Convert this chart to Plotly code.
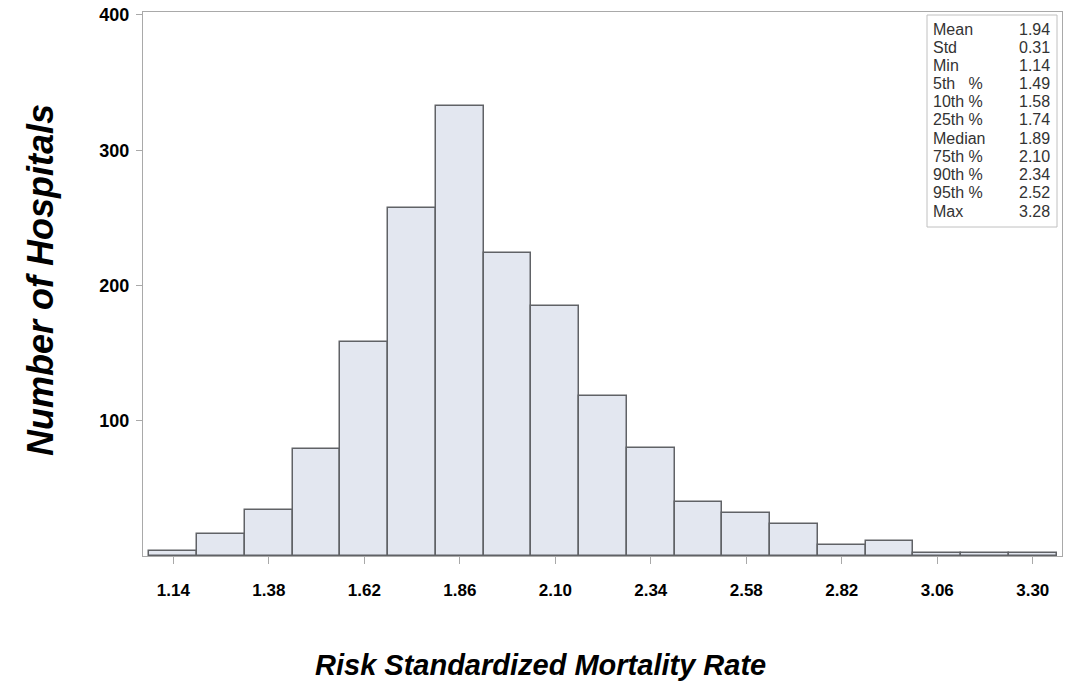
import plotly.graph_objects as go

# ---- data ----
bin_centers = [1.14, 1.26, 1.38, 1.50, 1.62, 1.74, 1.86, 1.98, 2.10, 2.22,
               2.34, 2.46, 2.58, 2.70, 2.82, 2.94, 3.06, 3.18, 3.30]
counts = [4, 16, 34, 79, 158, 257, 333, 224, 185, 118,
          80, 40, 32, 24, 8, 11, 2, 2, 2]
bin_width = 0.12
x_tick_vals = [1.14, 1.38, 1.62, 1.86, 2.10, 2.34, 2.58, 2.82, 3.06, 3.30]
x_tick_text = ["1.14", "1.38", "1.62", "1.86", "2.10", "2.34", "2.58", "2.82", "3.06", "3.30"]
y_tick_vals = [100, 200, 300, 400]
stat_labels = ["Mean", "Std", "Min", "5th   %", "10th %", "25th %", "Median",
               "75th %", "90th %", "95th %", "Max"]
stat_values = ["1.94", "0.31", "1.14", "1.49", "1.58", "1.74", "1.89",
               "2.10", "2.34", "2.52", "3.28"]

W, H = 1065, 692
L, R, T, B = 143, 3, 12, 136
pw, ph = W - L - R, H - T - B

def px(xp):
    return (xp - L) / pw

def py(yp):
    return (H - B - yp) / ph

FONT = "Liberation Sans, Arial"
frame = "#a9a9a9"

fig = go.Figure()
fig.add_trace(go.Bar(
    x=bin_centers, y=counts, width=bin_width,
    marker=dict(color="#e3e7f0", line=dict(color="#606266", width=1.5)),
    hoverinfo="x+y", showlegend=False,
))

fig.update_layout(
    width=W, height=H,
    margin=dict(l=L, r=R, t=T, b=B),
    paper_bgcolor="white", plot_bgcolor="white",
    bargap=0,
    xaxis=dict(
        range=[1.0638, 3.3735], tickvals=x_tick_vals, ticktext=x_tick_text,
        showline=True, linecolor=frame, linewidth=1, mirror=True,
        ticks="outside", ticklen=7, tickcolor=frame, tickwidth=1,
        showgrid=False, zeroline=False,
        tickfont=dict(family=FONT, size=17, color="black", weight="bold"),
        ticklabelstandoff=12,
    ),
    yaxis=dict(
        range=[0, 402.2], tickvals=y_tick_vals,
        showline=True, linecolor=frame, linewidth=1, mirror=True,
        ticks="outside", ticklen=6, tickcolor=frame, tickwidth=1,
        showgrid=False, zeroline=False,
        tickfont=dict(family=FONT, size=18, color="black", weight="bold"),
        ticklabelstandoff=3,
    ),
)

# stats inset box
fig.add_shape(type="rect", xref="paper", yref="paper",
              x0=px(927), x1=px(1057), y0=py(227), y1=py(15),
              line=dict(color="#c0c0c0", width=1), fillcolor="white", layer="above")
row0, row_step = 29, 18.2
for i, (lab, val) in enumerate(zip(stat_labels, stat_values)):
    yy = py(row0 + i * row_step)
    fig.add_annotation(xref="paper", yref="paper", x=px(931), y=yy,
                       xanchor="left", yanchor="middle", showarrow=False, text=lab,
                       font=dict(family=FONT, size=16, color="#333333"))
    fig.add_annotation(xref="paper", yref="paper", x=px(1052), y=yy,
                       xanchor="right", yanchor="middle", showarrow=False, text=val,
                       font=dict(family=FONT, size=16, color="#333333"))

# axis titles
fig.add_annotation(xref="paper", yref="paper", x=px(540), y=py(665),
                   xanchor="center", yanchor="middle", showarrow=False,
                   text="Risk Standardized Mortality Rate",
                   font=dict(family=FONT, size=29, color="black", weight="bold", style="italic"))
fig.add_annotation(xref="paper", yref="paper", x=px(40), y=py(280),
                   xanchor="center", yanchor="middle", showarrow=False, textangle=-90,
                   text="Number of Hospitals",
                   font=dict(family=FONT, size=36, color="black", weight="bold", style="italic"))

fig.write_html("out.html")
